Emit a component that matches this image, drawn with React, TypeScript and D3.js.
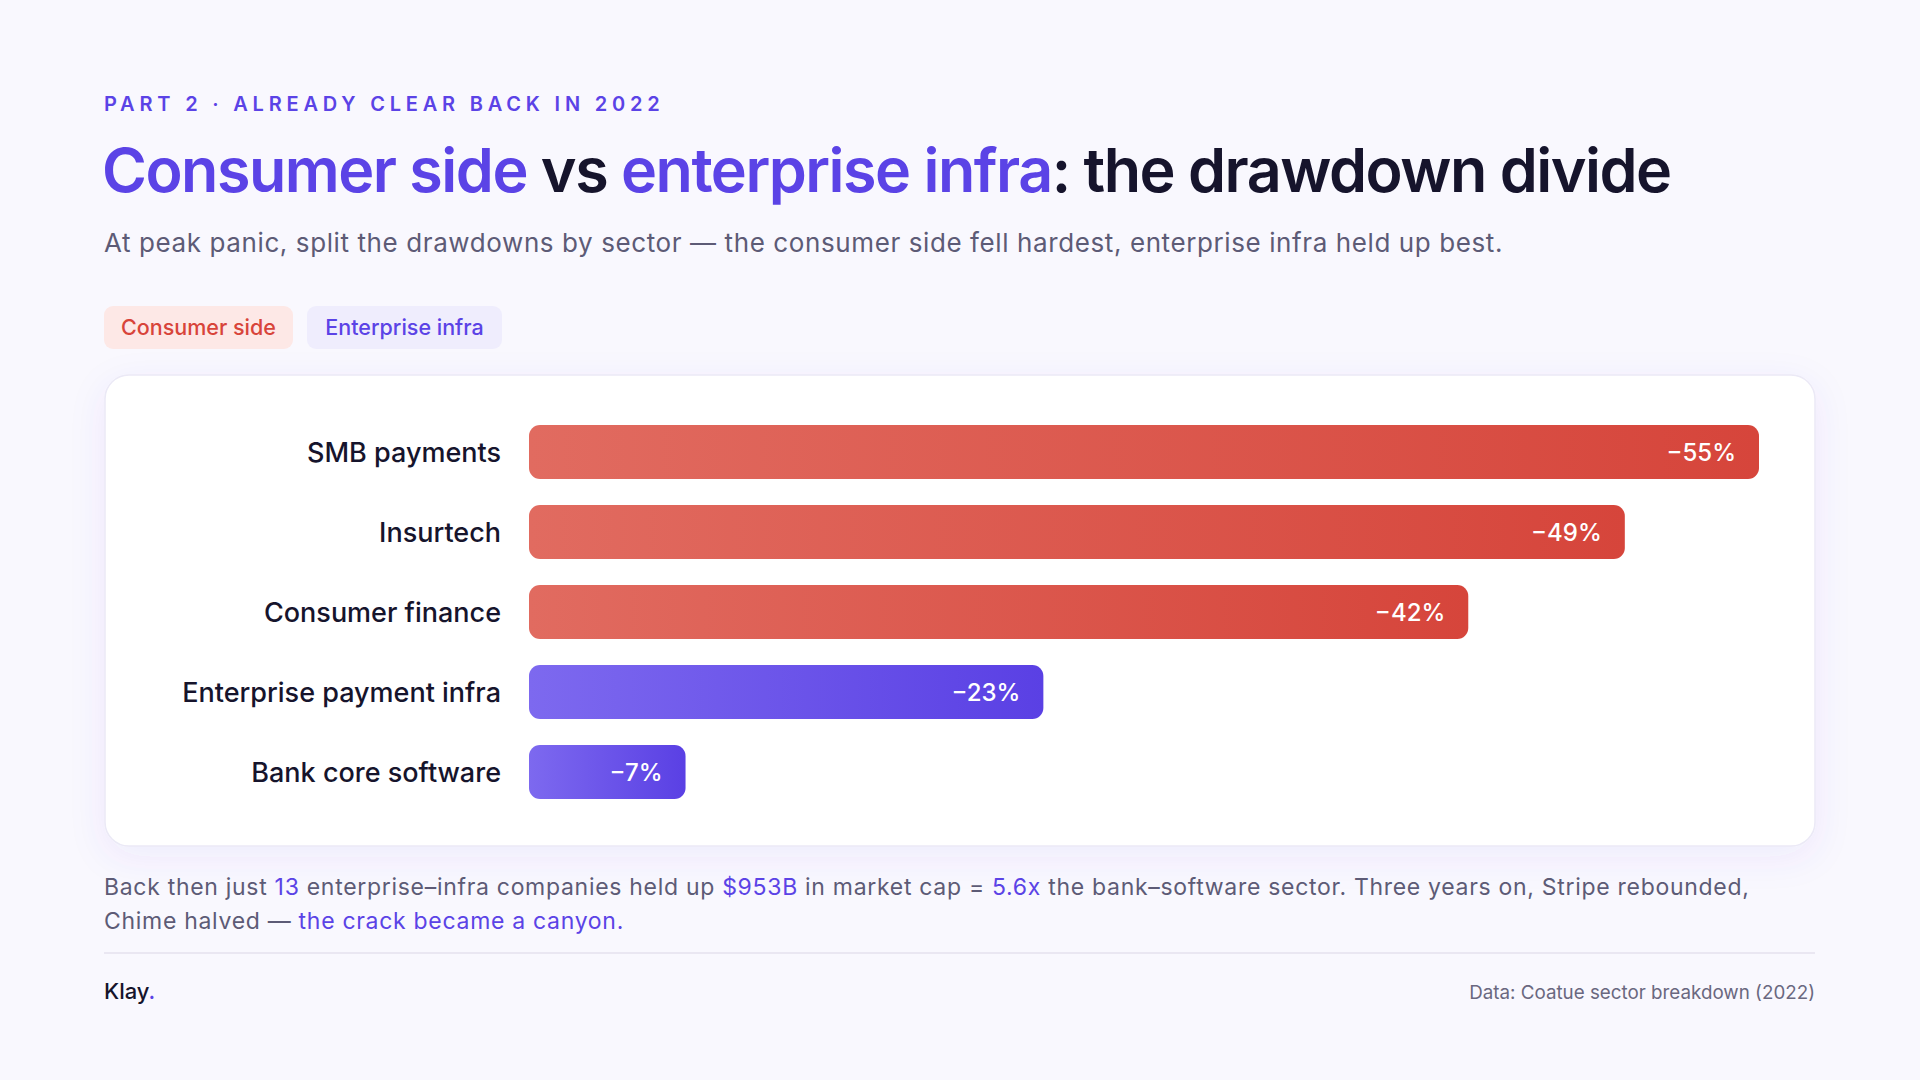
import * as d3 from 'd3';

const sectors = ['SMB payments', 'Insurtech', 'Consumer finance', 'Enterprise payment infra', 'Bank core software'];
const drawdowns = [55, 49, 42, 23, 7];
const groups = ['consumer', 'consumer', 'consumer', 'enterprise', 'enterprise'];

const legendLabels = ['Consumer side', 'Enterprise infra'];

const W = 1920;
const H = 1080;
const FONT = 'Inter, "Noto Sans", sans-serif';
const PURPLE = '#5b43e6';
const RED = '#d8443a';
const INK = '#16142c';
const GREY = '#5d5b76';

const card = { x: 105, y: 375, w: 1710, h: 471 };

const x = d3.scaleLinear().domain([0, d3.max(drawdowns) as number]).range([529, 1759]);
const y = d3.scaleBand<string>().domain(sectors).range([412, 812]).paddingInner(0.325).paddingOuter(0.1625);

const fmt = (v: number) => `\u2212${v}%`;

export default function App() {
  return (
    <div style={{ position: 'fixed', left: 0, top: 0 }}>
      <svg width={W} height={H} viewBox={`0 0 ${W} ${H}`} style={{ display: 'block', fontFamily: FONT }}>
        <defs>
          <linearGradient id="grad-consumer" x1="0" x2="1" y1="0" y2="0">
            <stop offset="0%" stopColor="#e16b60" />
            <stop offset="100%" stopColor="#d6453b" />
          </linearGradient>
          <linearGradient id="grad-enterprise" x1="0" x2="1" y1="0" y2="0">
            <stop offset="0%" stopColor="#7d69ef" />
            <stop offset="100%" stopColor="#5a40e4" />
          </linearGradient>
          <filter id="card-shadow" x="-10%" y="-20%" width="120%" height="150%">
            <feDropShadow dx="0" dy="10" stdDeviation="18" floodColor="#5b43e6" floodOpacity="0.07" />
          </filter>
        </defs>

        <rect width={W} height={H} fill="#f9f8fe" />

        {/* header */}
        <text x={104} y={111} fontSize={20} fontWeight={600} letterSpacing={4.8} fill={PURPLE}>
          PART 2 · ALREADY CLEAR BACK IN 2022
        </text>
        <text x={102} y={192} fontSize={61} fontWeight={600} letterSpacing={-1.5} fill={INK}>
          <tspan fill={PURPLE}>Consumer side</tspan>
          <tspan> vs </tspan>
          <tspan fill={PURPLE}>enterprise infra</tspan>
          <tspan>: the drawdown divide</tspan>
        </text>
        <text x={104} y={252} fontSize={26} fontWeight={400} letterSpacing={0.6} fill={GREY}>
          At peak panic, split the drawdowns by sector — the consumer side fell hardest, enterprise infra held up best.
        </text>

        {/* legend pills */}
        <g>
          <rect x={104} y={306} width={189} height={43} rx={9} fill="#fde8e6" />
          <text x={198.5} y={335} textAnchor="middle" fontSize={21.5} fontWeight={500} fill={RED}>{legendLabels[0]}</text>
          <rect x={307} y={306} width={195} height={43} rx={9} fill="#efedfd" />
          <text x={404.5} y={335} textAnchor="middle" fontSize={21.5} fontWeight={500} fill={PURPLE}>{legendLabels[1]}</text>
        </g>

        {/* card */}
        <rect x={card.x} y={card.y} width={card.w} height={card.h} rx={24} fill="#ffffff" stroke="#ebe9f6" strokeWidth={1.5} filter="url(#card-shadow)" />

        {/* bars */}
        {sectors.map((s, i) => {
          const by = y(s) as number;
          const bw = x(drawdowns[i]) - x(0);
          return (
            <g key={s}>
              <text x={501} y={by + y.bandwidth() / 2} dy="0.36em" textAnchor="end" fontSize={27} fontWeight={500} fill={INK}>
                {s}
              </text>
              <rect x={x(0)} y={by} width={bw} height={y.bandwidth()} rx={11} fill={`url(#grad-${groups[i]})`} />
              <text x={x(drawdowns[i]) - 23} y={by + y.bandwidth() / 2} dy="0.36em" textAnchor="end" fontSize={24} fontWeight={500} fill="#ffffff">
                {fmt(drawdowns[i])}
              </text>
            </g>
          );
        })}

        {/* footnote */}
        <text x={104} y={895} fontSize={23} letterSpacing={0.7} fill={GREY}>
          <tspan>Back then just </tspan>
          <tspan fill={PURPLE}>13</tspan>
          <tspan> enterprise–infra companies held up </tspan>
          <tspan fill={PURPLE}>$953B</tspan>
          <tspan> in market cap = </tspan>
          <tspan fill={PURPLE}>5.6x</tspan>
          <tspan> the bank–software sector. Three years on, Stripe rebounded,</tspan>
        </text>
        <text x={104} y={929} fontSize={23} letterSpacing={0.7} fill={GREY}>
          <tspan>Chime halved — </tspan>
          <tspan fill={PURPLE}>the crack became a canyon.</tspan>
        </text>

        <line x1={104} x2={1815} y1={953} y2={953} stroke="#e4e2ee" strokeWidth={1.5} />

        <text x={104} y={999} fontSize={22} fontWeight={500} fill={INK}>
          Klay<tspan fill={PURPLE}>.</tspan>
        </text>
        <text x={1815} y={999} textAnchor="end" fontSize={18.8} fill="#6a6880">
          Data: Coatue sector breakdown (2022)
        </text>
      </svg>
    </div>
  );
}
